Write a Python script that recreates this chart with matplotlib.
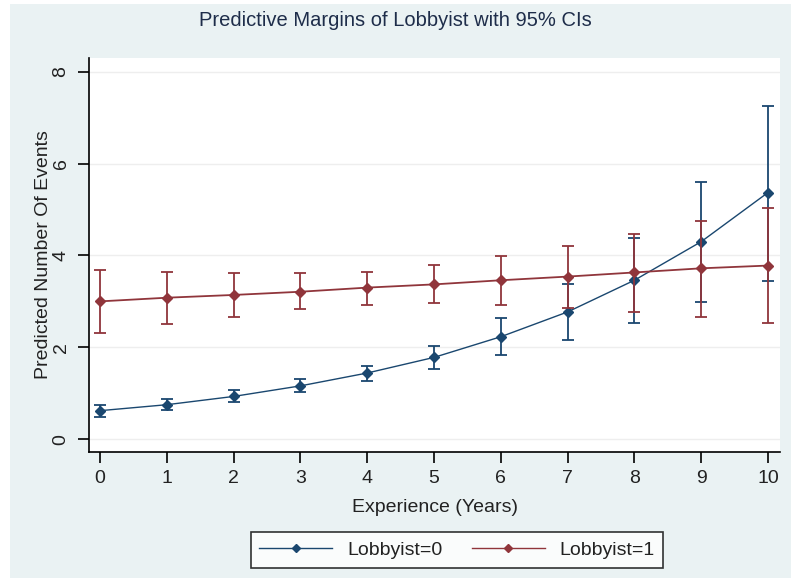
import numpy as np
import matplotlib.pyplot as plt
from matplotlib.patches import Rectangle

plt.rcParams['font.family'] = ['Liberation Sans', 'DejaVu Sans']

experience = [0, 1, 2, 3, 4, 5, 6, 7, 8, 9, 10]

lob0 = [0.62, 0.75, 0.93, 1.16, 1.44, 1.78, 2.23, 2.77, 3.46, 4.30, 5.37]
lob0_lo = [0.49, 0.63, 0.80, 1.03, 1.27, 1.52, 1.83, 2.16, 2.54, 2.98, 3.45]
lob0_hi = [0.75, 0.87, 1.07, 1.30, 1.60, 2.03, 2.63, 3.37, 4.37, 5.59, 7.26]

lob1 = [3.00, 3.08, 3.14, 3.21, 3.30, 3.37, 3.46, 3.54, 3.63, 3.72, 3.78]
lob1_lo = [2.32, 2.51, 2.66, 2.83, 2.92, 2.96, 2.92, 2.86, 2.76, 2.66, 2.53]
lob1_hi = [3.68, 3.64, 3.61, 3.61, 3.64, 3.79, 3.99, 4.21, 4.47, 4.75, 5.04]

blue = '#1a476f'
red = '#90353b'
bg = '#eaf2f3'
txt = '#222222'

fig = plt.figure(figsize=(7.91, 5.78), dpi=100)
fig.patch.set_facecolor('white')
fig.patches.append(Rectangle((10 / 791, 0), 1, 1 - 4 / 578, transform=fig.transFigure,
                             facecolor=bg, edgecolor='none', zorder=-10))

ax = fig.add_axes([89 / 791, 126 / 578, 691 / 791, 394 / 578])
ax.set_facecolor('white')

x = np.array(experience)
for y, lo, hi, c, lw in [(lob0, lob0_lo, lob0_hi, blue, 1.0), (lob1, lob1_lo, lob1_hi, red, 1.3)]:
    y = np.array(y)
    err = [y - np.array(lo), np.array(hi) - y]
    ax.errorbar(x, y, yerr=err, fmt='none', ecolor=c, elinewidth=1.3, capsize=4, capthick=1.3)
    ax.plot(x, y, color=c, lw=lw, marker='D', markersize=5.5)

ax.set_xlim(-0.165, 10.18)
ax.set_ylim(-0.28, 8.30)
ax.set_xticks(experience)
ax.set_yticks([0, 2, 4, 6, 8])
ax.grid(axis='y', color='#eeeeee', lw=1)
ax.set_axisbelow(True)

for s in ['top', 'right']:
    ax.spines[s].set_visible(False)
for s in ['left', 'bottom']:
    ax.spines[s].set_linewidth(1.2)
ax.tick_params(direction='out', length=8, width=1.2, labelsize=14, colors='black')
ax.tick_params(axis='both', labelcolor=txt)
for lab in ax.get_yticklabels():
    lab.set_rotation(90)
    lab.set_va('center')
ax.tick_params(axis='x', pad=5)
ax.tick_params(axis='y', pad=6)

ax.set_xlabel('Experience (Years)', fontsize=14, color=txt)
ax.xaxis.set_label_coords(0.5, -(499 - 452) / 394)
ax.set_ylabel('Predicted Number Of Events', fontsize=14, color=txt)
ax.yaxis.set_label_coords((52 - 89) / 691, 0.5)

fig.text(0.5, 1 - 20 / 578, 'Predictive Margins of Lobbyist with 95% CIs', ha='center', va='center',
         fontsize=14.5, color='#1e2d4a')

h0, = ax.plot([], [], color=blue, lw=1.0, marker='D', markersize=4)
h1, = ax.plot([], [], color=red, lw=1.0, marker='D', markersize=4)
leg = fig.legend([h0, h1], ['Lobbyist=0', 'Lobbyist=1'], ncol=2, loc='center',
                 bbox_to_anchor=(457 / 791, 1 - 550 / 578), fontsize=14, frameon=True,
                 fancybox=False, edgecolor='black', handlelength=3.75, columnspacing=1.5,
                 borderpad=0.45, handletextpad=0.77)
leg.get_frame().set_linewidth(1.2)
for t in leg.get_texts():
    t.set_color(txt)

fig.savefig('out.png', dpi=100, facecolor=fig.get_facecolor())
